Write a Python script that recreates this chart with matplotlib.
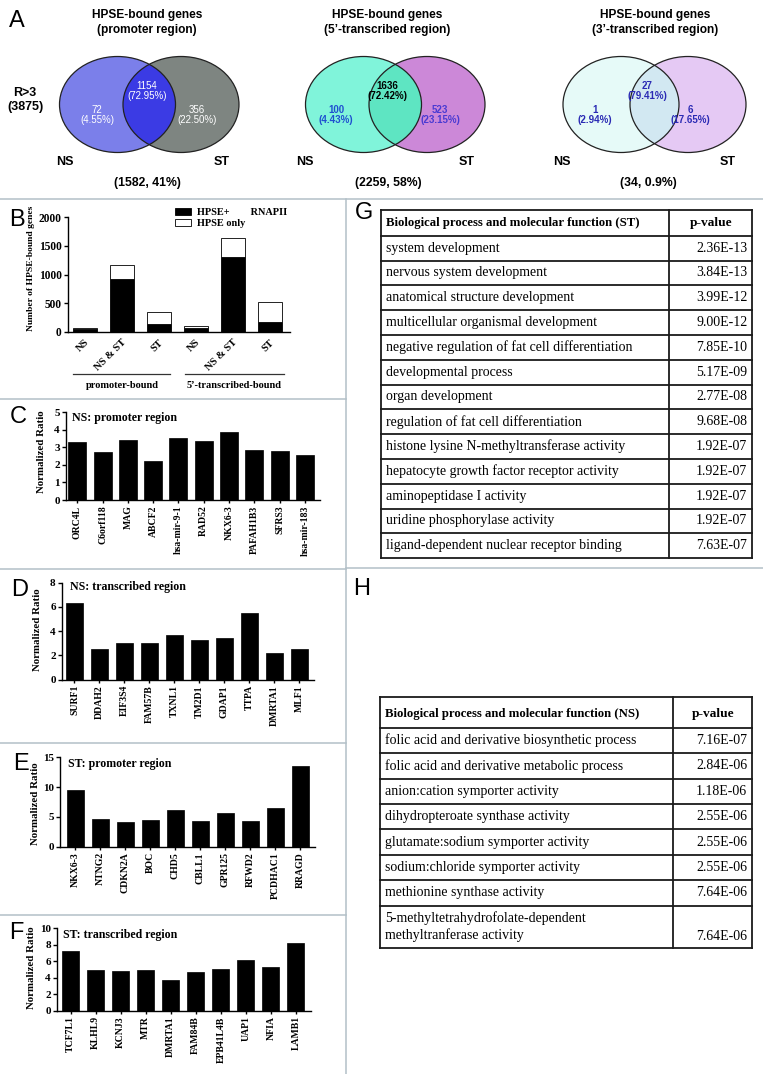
import numpy as np
import matplotlib.pyplot as plt
from matplotlib.patches import Ellipse

W, H = 763, 1074

# ---------------- data ----------------
venn_titles = ["HPSE-bound genes\n(promoter region)",
               "HPSE-bound genes\n(5’-transcribed region)",
               "HPSE-bound genes\n(3’-transcribed region)"]
ns_only = [72, 100, 1]
ns_only_pct = ["4.55%", "4.43%", "2.94%"]
shared = [1154, 1636, 27]
shared_pct = ["72.95%", "72.42%", "79.41%"]
st_only = [356, 523, 6]
st_only_pct = ["22.50%", "23.15%", "17.65%"]
venn_total = [1582, 2259, 34]
venn_total_pct = ["41%", "58%", "0.9%"]

b_groups = ["NS", "NS & ST", "ST", "NS", "NS & ST", "ST"]
b_rnapii = [55, 930, 145, 65, 1300, 180]
b_hpse_only = [17, 230, 211, 35, 336, 343]

c_genes = ["ORC4L", "C6orf118", "MAG", "ABCF2", "hsa-mir-9-1", "RAD52",
           "NKX6-3", "PAFAH1B3", "SFRS3", "hsa-mir-183"]
c_vals = [3.27, 2.75, 3.42, 2.22, 3.55, 3.38, 3.85, 2.83, 2.78, 2.55]

d_genes = ["SURF1", "DDAH2", "EIF3S4", "FAM57B", "TXNL1", "TM2D1",
           "GDAP1", "TTPA", "DMRTA1", "MLF1"]
d_vals = [6.35, 2.5, 3.05, 3.02, 3.65, 3.28, 3.42, 5.5, 2.22, 2.52]

e_genes = ["NKX6-3", "NTNG2", "CDKN2A", "BOC", "CHD5", "CBLL1",
           "GPR125", "RFWD2", "PCDHAC1", "RRAGD"]
e_vals = [9.5, 4.7, 4.05, 4.45, 6.2, 4.3, 5.55, 4.3, 6.5, 13.5]

f_genes = ["TCF7L1", "KLHL9", "KCNJ3", "MTR", "DMRTA1", "FAM84B",
           "EPB41L4B", "UAP1", "NFIA", "LAMB1"]
f_vals = [7.2, 5.0, 4.8, 4.92, 3.68, 4.65, 5.05, 6.15, 5.35, 8.25]

g_terms = ["system development", "nervous system development",
           "anatomical structure development",
           "multicellular organismal development",
           "negative regulation of fat cell differentiation",
           "developmental process", "organ development",
           "regulation of fat cell differentiation",
           "histone lysine N-methyltransferase activity",
           "hepatocyte growth factor receptor activity",
           "aminopeptidase I activity", "uridine phosphorylase activity",
           "ligand-dependent nuclear receptor binding"]
g_pvals = ["2.36E-13", "3.84E-13", "3.99E-12", "9.00E-12", "7.85E-10",
           "5.17E-09", "2.77E-08", "9.68E-08", "1.92E-07", "1.92E-07",
           "1.92E-07", "1.92E-07", "7.63E-07"]

h_terms = ["folic acid and derivative biosynthetic process",
           "folic acid and derivative metabolic process",
           "anion:cation symporter activity",
           "dihydropteroate synthase activity",
           "glutamate:sodium symporter activity",
           "sodium:chloride symporter activity",
           "methionine synthase activity",
           "5-methyltetrahydrofolate-dependent\nmethyltranferase activity"]
h_pvals = ["7.16E-07", "2.84E-06", "1.18E-06", "2.55E-06", "2.55E-06",
           "2.55E-06", "7.64E-06", "7.64E-06"]

# ---------------- figure ----------------
SANS = "Liberation Sans"
SERIF = "Liberation Serif"
plt.rcParams["font.family"] = SERIF

fig = plt.figure(figsize=(W / 100, H / 100), dpi=100)
fig.patch.set_facecolor("white")

# overlay axes in pixel coordinates for layout elements
ov = fig.add_axes([0, 0, 1, 1])
ov.set_xlim(0, W)
ov.set_ylim(H, 0)
ov.axis("off")


def px_axes(x0, y0, x1, y1):
    a = fig.add_axes([x0 / W, 1 - y1 / H, (x1 - x0) / W, (y1 - y0) / H])
    a.set_facecolor("none")
    return a


# separator lines
sep = "#b3c0c8"
ov.plot([0, W], [198.5, 198.5], color=sep, lw=1.1)
ov.plot([346, 346], [198.5, H], color=sep, lw=1.1)
for yy in [399, 569, 742.5, 915]:
    ov.plot([0, 346], [yy, yy], color=sep, lw=1.1)
ov.plot([346, W], [568, 568], color=sep, lw=1.1)

# panel letters
letters = {"A": (9, 21), "B": (9, 220), "C": (10, 417), "D": (11, 590),
           "E": (13, 764), "F": (9, 933), "G": (355, 213), "H": (353, 589)}
for k, (lx, ly) in letters.items():
    ov.text(lx, ly, k, fontsize=17, family=SANS, va="center", ha="left")

# ---------------- A: Venn diagrams ----------------
venn_style = [
    dict(cx=(117.5, 181), c=("#7b7fea", "#7e8581", "#3b3be4"),
         tc=("white", "white", "white"), bold=False, title_x=147,
         lab=(65, 222), tot=147, both=147, ns=97, st=197),
    dict(cx=(363.5, 427), c=("#80f4da", "#cc88d8", "#5ee5c2"),
         tc=("#1f4fd0", "black", "#4a3ad2"), bold=True, title_x=387,
         lab=(305, 467), tot=388, both=387, ns=336, st=440),
    dict(cx=(621, 688), c=("#e6faf8", "#e5c9f4", "#d2e8f2"),
         tc=("#2a2ab4", "#2a2ab4", "#2a2ab4"), bold=True, title_x=655,
         lab=(562, 728), tot=648, both=647, ns=595, st=690),
]
cy, ew, eh = 104.5, 116, 96
for i, s in enumerate(venn_style):
    e1 = Ellipse((s["cx"][0], cy), ew, eh, facecolor=s["c"][0], edgecolor="none")
    e2 = Ellipse((s["cx"][1], cy), ew, eh, facecolor=s["c"][1], edgecolor="none")
    e3 = Ellipse((s["cx"][1], cy), ew, eh, facecolor=s["c"][2], edgecolor="none")
    ov.add_patch(e1)
    ov.add_patch(e2)
    ov.add_patch(e3)
    e3.set_clip_path(e1)
    for cx in s["cx"]:
        ov.add_patch(Ellipse((cx, cy), ew, eh, facecolor="none",
                             edgecolor="#222222", lw=0.9))
    ov.text(s["title_x"], 22.5, venn_titles[i], ha="center", va="center",
            fontsize=8.6, fontweight="bold", family=SANS, linespacing=1.25)
    ov.text(s["lab"][0], 162, "NS", ha="center", va="center", fontsize=9,
            fontweight="bold", family=SANS)
    ov.text(s["lab"][1], 162, "ST", ha="center", va="center", fontsize=9,
            fontweight="bold", family=SANS)
    ov.text(s["tot"], 183, f"({venn_total[i]}, {venn_total_pct[i]})",
            ha="center", va="center", fontsize=8.8, fontweight="bold",
            family=SANS)
    w = "bold" if s["bold"] else "normal"
    ov.text(s["ns"], 115, f"{ns_only[i]}\n({ns_only_pct[i]})", ha="center",
            va="center", fontsize=7, color=s["tc"][0], fontweight=w,
            family=SANS, linespacing=1.05)
    ov.text(s["both"], 91, f"{shared[i]}\n({shared_pct[i]})", ha="center",
            va="center", fontsize=7, color=s["tc"][1], fontweight=w,
            family=SANS, linespacing=1.05)
    ov.text(s["st"], 115, f"{st_only[i]}\n({st_only_pct[i]})", ha="center",
            va="center", fontsize=7, color=s["tc"][2], fontweight=w,
            family=SANS, linespacing=1.05)

ov.text(25, 100, "R>3\n(3875)", ha="center", va="center", fontsize=9,
        fontweight="bold", family=SANS, linespacing=1.15)


# ---------------- bar panel helper ----------------
def style_axis(ax, yticks, ylabel, lab_xy, ytick_fs=8, ylab_fs=7.8):
    for sp in ["top", "right"]:
        ax.spines[sp].set_visible(False)
    for sp in ["left", "bottom"]:
        ax.spines[sp].set_linewidth(1.0)
    ax.set_yticks(yticks, [str(t) for t in yticks], fontsize=ytick_fs,
                  fontweight="bold")
    ax.tick_params(axis="y", length=3, width=1.0, pad=1.5)
    ax.set_ylabel(ylabel, fontsize=ylab_fs, fontweight="bold")
    ax.yaxis.set_label_coords(lab_xy[0], lab_xy[1], transform=ov.transData)
    ax.yaxis.label.set_verticalalignment("center")


def gene_panel(box, genes, vals, xlim, ylim, yticks, width, title, title_xy,
               lab_xy):
    ax = px_axes(*box)
    x = np.arange(len(genes))
    ax.bar(x, vals, width=width, color="black", edgecolor="black", lw=0.5)
    ax.set_xlim(*xlim)
    ax.set_ylim(*ylim)
    ax.set_xticks(x, genes, rotation=90, fontsize=7, fontweight="bold")
    ax.tick_params(axis="x", length=2.5, width=1.0, pad=1.5)
    style_axis(ax, yticks, "Normalized Ratio", lab_xy)
    ov.text(title_xy[0], title_xy[1], title, fontsize=8.6, fontweight="bold",
            va="center", ha="left")
    return ax


# ---------------- B ----------------
axb = px_axes(68, 217, 290, 332)
xb = np.arange(len(b_groups))
bars1 = axb.bar(xb, b_rnapii, width=0.65, color="black", edgecolor="black",
                lw=0.6)
bars2 = axb.bar(xb, b_hpse_only, bottom=b_rnapii, width=0.65, color="white",
                edgecolor="black", lw=0.6)
axb.set_xlim(-0.45, 5.55)
axb.set_ylim(0, 2000)
axb.set_xticks(xb, b_groups, rotation=45, ha="right", rotation_mode="anchor",
               fontsize=7.6, fontweight="bold")
axb.tick_params(axis="x", length=0, pad=4)
style_axis(axb, [0, 500, 1000, 1500, 2000], "Number of HPSE-bound genes",
           (31, 268), ytick_fs=8.3, ylab_fs=6.8)
axb.legend([bars1, bars2], ["HPSE+        RNAPII", "HPSE only"],
           loc="upper left", bbox_to_anchor=(175, 208),
           bbox_transform=ov.transData, frameon=False,
           prop=dict(family=SERIF, weight="bold", size=7.4),
           handlelength=1.6, handleheight=0.6, handletextpad=0.5,
           labelspacing=0.2, borderaxespad=0, borderpad=0)

ov.plot([73, 170], [374, 374], color="#333333", lw=0.9)
ov.plot([185, 284], [374, 374], color="#333333", lw=0.9)
ov.text(122, 385, "promoter-bound", ha="center", va="center", fontsize=7.5,
        fontweight="bold")
ov.text(234.5, 385, "5’-transcribed-bound", ha="center", va="center",
        fontsize=7.5, fontweight="bold")

# ---------------- C-F ----------------
gene_panel((66, 412, 320, 500), c_genes, c_vals, (-0.45, 9.6), (0, 5),
           [0, 1, 2, 3, 4, 5], 0.71, "NS: promoter region", (72, 418),
           (42, 452))
gene_panel((62, 582.7, 314.5, 679.5), d_genes, d_vals, (-0.5, 9.6), (0, 8),
           [0, 2, 4, 6, 8], 0.68, "NS: transcribed region", (70, 587),
           (37, 630))
gene_panel((60, 757.3, 315, 846.5), e_genes, e_vals, (-0.6, 9.6), (0, 15),
           [0, 5, 10, 15], 0.68, "ST: promoter region", (68, 764),
           (36, 804))
gene_panel((57, 928.3, 311, 1010.7), f_genes, f_vals, (-0.54, 9.6), (0, 10),
           [0, 2, 4, 6, 8, 10], 0.68, "ST: transcribed region", (63, 935),
           (32, 968))


# ---------------- tables ----------------
def draw_table(x0, xdiv, x1, edges, header, terms, pvals, hdr_y):
    lc = "#1a1a1a"
    for y in edges:
        ov.plot([x0, x1], [y, y], color=lc, lw=1.3, solid_capstyle="projecting")
    for x in [x0, xdiv, x1]:
        ov.plot([x, x], [edges[0], edges[-1]], color=lc, lw=1.3,
                solid_capstyle="projecting")
    ov.text(x0 + 5, hdr_y, header, fontsize=9.2, fontweight="bold",
            va="center")
    ov.text((xdiv + x1) / 2, hdr_y, "p-value", fontsize=9.6, fontweight="bold",
            va="center", ha="center")
    for i, (t, p) in enumerate(zip(terms, pvals)):
        ya, yb = edges[i + 1], edges[i + 2]
        yc = (ya + yb) / 2
        ov.text(x0 + 5, yc, t, fontsize=10, va="center", linespacing=1.25)
        py = yb - 11.5 if "\n" in t else yc
        ov.text(x1 - 5, py, p, fontsize=10, va="center", ha="right")


g_edges = [210, 235.7] + [235.7 + 24.8 * (k + 1) for k in range(13)]
draw_table(380.7, 669.3, 752.3, g_edges,
           "Biological process and molecular function (ST)", g_terms, g_pvals,
           223.3)

h_edges = [696.7, 727.7, 753.3, 778.6, 804, 829.3, 855, 880, 905.7, 947.7]
draw_table(380, 673.3, 752.3, h_edges,
           "Biological process and molecular function (NS)", h_terms, h_pvals,
           714.5)

fig.savefig("out.png", dpi=100)
